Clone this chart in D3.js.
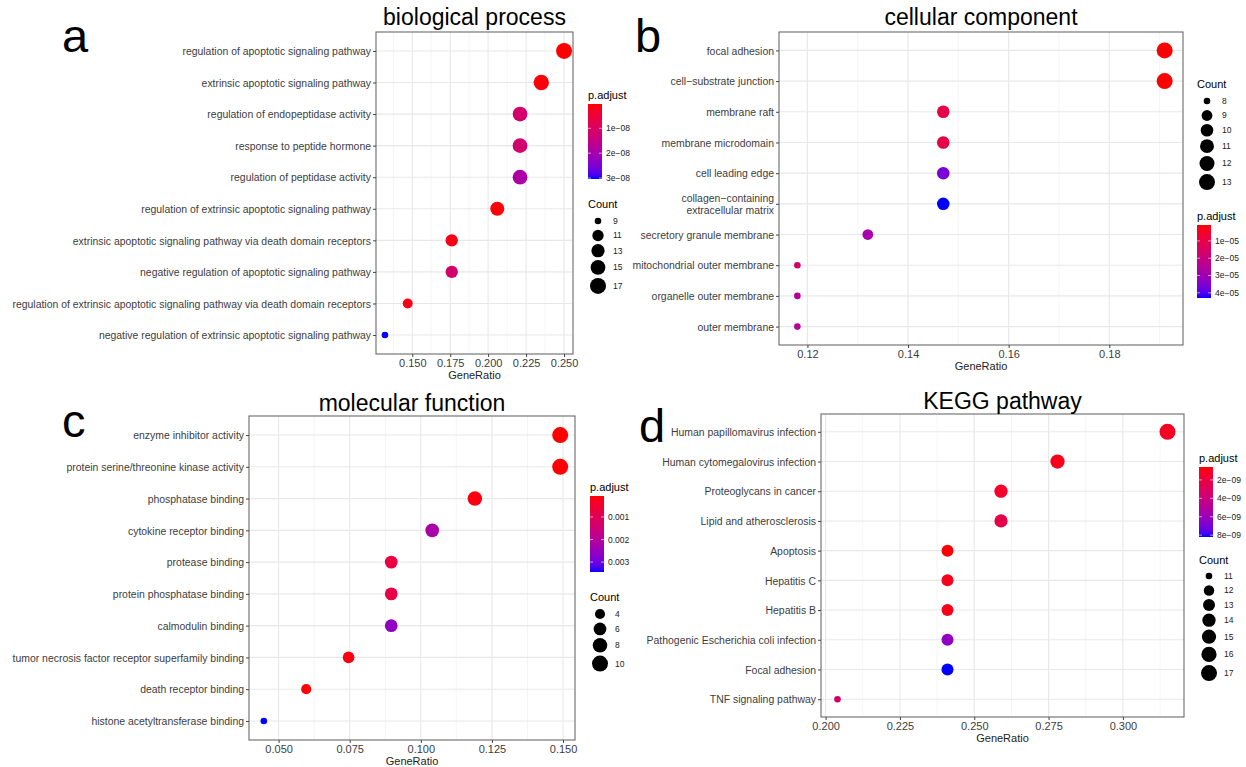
<!DOCTYPE html>
<html><head><meta charset="utf-8">
<script src="https://cdn.jsdelivr.net/npm/d3@7"></script>
<style>
body{margin:0;background:#fff}
svg text{font-family:"Liberation Sans",Arial,Helvetica,sans-serif}
</style>
</head><body>
<svg id="chart" width="1246" height="767"></svg>
<script>
// ---------------- DATA ----------------
const bpTerms = [
 "regulation of apoptotic signaling pathway",
 "extrinsic apoptotic signaling pathway",
 "regulation of endopeptidase activity",
 "response to peptide hormone",
 "regulation of peptidase activity",
 "regulation of extrinsic apoptotic signaling pathway",
 "extrinsic apoptotic signaling pathway via death domain receptors",
 "negative regulation of apoptotic signaling pathway",
 "regulation of extrinsic apoptotic signaling pathway via death domain receptors",
 "negative regulation of extrinsic apoptotic signaling pathway"];
const bpRatio = [0.250, 0.235, 0.221, 0.221, 0.221, 0.206, 0.176, 0.176, 0.147, 0.132];
const bpCount = [17, 16, 15, 15, 15, 14, 12, 12, 10, 9];
const bpPadj  = [2e-10, 8e-10, 1.15e-8, 1.2e-8, 1.9e-8, 6e-10, 1.5e-9, 1.15e-8, 1.5e-9, 3.04e-8];
const bpXTicks = [0.150, 0.175, 0.200, 0.225, 0.250];
const bpPTicks = [1e-8, 2e-8, 3e-8];
const bpPLabels = ["1e\u221208", "2e\u221208", "3e\u221208"];
const bpCountBreaks = [9, 11, 13, 15, 17];

const ccTerms = [
 "focal adhesion",
 "cell\u2212substrate junction",
 "membrane raft",
 "membrane microdomain",
 "cell leading edge",
 "collagen\u2212containing\nextracellular matrix",
 "secretory granule membrane",
 "mitochondrial outer membrane",
 "organelle outer membrane",
 "outer membrane"];
const ccRatio = [0.191, 0.191, 0.147, 0.147, 0.147, 0.147, 0.132, 0.118, 0.118, 0.118];
const ccCount = [13, 13, 10, 10, 10, 10, 9, 8, 8, 8];
const ccPadj  = [8e-7, 8e-7, 1.0e-5, 1.0e-5, 3.6e-5, 4.3e-5, 2.8e-5, 1.6e-5, 2.5e-5, 2.5e-5];
const ccXTicks = [0.12, 0.14, 0.16, 0.18];
const ccPTicks = [1e-5, 2e-5, 3e-5, 4e-5];
const ccPLabels = ["1e\u221205", "2e\u221205", "3e\u221205", "4e\u221205"];
const ccCountBreaks = [8, 9, 10, 11, 12, 13];

const mfTerms = [
 "enzyme inhibitor activity",
 "protein serine/threonine kinase activity",
 "phosphatase binding",
 "cytokine receptor binding",
 "protease binding",
 "protein phosphatase binding",
 "calmodulin binding",
 "tumor necrosis factor receptor superfamily binding",
 "death receptor binding",
 "histone acetyltransferase binding"];
const mfRatio = [0.149, 0.149, 0.119, 0.104, 0.0896, 0.0896, 0.0896, 0.0746, 0.0597, 0.0448];
const mfCount = [10, 10, 8, 7, 6, 6, 6, 5, 4, 3];
const mfPadj  = [7e-5, 1e-4, 1.5e-4, 2.2e-3, 7e-4, 8e-4, 2.6e-3, 1.5e-4, 1e-4, 3.44e-3];
const mfXTicks = [0.050, 0.075, 0.100, 0.125, 0.150];
const mfPTicks = [0.001, 0.002, 0.003];
const mfPLabels = ["0.001", "0.002", "0.003"];
const mfCountBreaks = [4, 6, 8, 10];

const keggTerms = [
 "Human papillomavirus infection",
 "Human cytomegalovirus infection",
 "Proteoglycans in cancer",
 "Lipid and atherosclerosis",
 "Apoptosis",
 "Hepatitis C",
 "Hepatitis B",
 "Pathogenic Escherichia coli infection",
 "Focal adhesion",
 "TNF signaling pathway"];
const keggRatio = [0.315, 0.278, 0.259, 0.259, 0.241, 0.241, 0.241, 0.241, 0.241, 0.204];
const keggCount = [17, 15, 14, 14, 13, 13, 13, 13, 13, 11];
const keggPadj  = [1.2e-9, 1.0e-9, 1.4e-9, 2.3e-9, 6e-10, 1.0e-9, 1.0e-9, 6.3e-9, 8.2e-9, 3.4e-9];
const keggXTicks = [0.200, 0.225, 0.250, 0.275, 0.300];
const keggPTicks = [2e-9, 4e-9, 6e-9, 8e-9];
const keggPLabels = ["2e\u221209", "4e\u221209", "6e\u221209", "8e\u221209"];
const keggCountBreaks = [11, 12, 13, 14, 15, 16, 17];

// ---------------- LAYOUT ----------------
const panels = [
 {letter:"a", title:"biological process", terms:bpTerms, ratio:bpRatio, count:bpCount, padj:bpPadj,
  xTicks:bpXTicks, xFmt:".3f", pTicks:bpPTicks, pLabels:bpPLabels, cBreaks:bpCountBreaks,
  box:[376,573,32,354], letterPos:[62,52], titleY:25,
  legend:{order:["p","c"], x:588, pTitleY:99, barY:104, barH:75, cTitleY:208, keyY0:221}},
 {letter:"b", title:"cellular component", terms:ccTerms, ratio:ccRatio, count:ccCount, padj:ccPadj,
  xTicks:ccXTicks, xFmt:".2f", pTicks:ccPTicks, pLabels:ccPLabels, cBreaks:ccCountBreaks,
  box:[779,1183,32,345], letterPos:[635,52], titleY:25,
  legend:{order:["c","p"], x:1197, pTitleY:220, barY:225, barH:73, cTitleY:88, keyY0:101}},
 {letter:"c", title:"molecular function", terms:mfTerms, ratio:mfRatio, count:mfCount, padj:mfPadj,
  xTicks:mfXTicks, xFmt:".3f", pTicks:mfPTicks, pLabels:mfPLabels, cBreaks:mfCountBreaks,
  box:[249,575,416,740], letterPos:[62,437], titleY:411,
  legend:{order:["p","c"], x:590, pTitleY:491, barY:496, barH:76, cTitleY:601, keyY0:614}},
 {letter:"d", title:"KEGG pathway", terms:keggTerms, ratio:keggRatio, count:keggCount, padj:keggPadj,
  xTicks:keggXTicks, xFmt:".3f", pTicks:keggPTicks, pLabels:keggPLabels, cBreaks:keggCountBreaks,
  box:[821,1184,414,717], letterPos:[639,442], titleY:409,
  legend:{order:["p","c"], x:1199, pTitleY:462, barY:467, barH:70, cTitleY:564, keyY0:576}}
];

const svg = d3.select("#chart");
const defs = svg.append("defs");
const colorInterp = d3.interpolateLab("#ff0000", "#0000ff");
const axisTextColor = "#3d3d3d";

panels.forEach((P, pi) => {
  const [x0, x1, y0, y1] = P.box;
  const g = svg.append("g");

  const ext = d3.extent(P.ratio);
  const pad = (ext[1] - ext[0]) * 0.05;
  const x = d3.scaleLinear().domain([ext[0] - pad, ext[1] + pad]).range([x0, x1]);
  const y = d3.scalePoint().domain(P.terms).range([y0, y1]).padding(0.6);
  const cExt = d3.extent(P.count);
  const tScale = d3.scaleLinear().domain(cExt).range([0, 1]);
  const rOf = c => 3.3 + 4.7 * Math.sqrt(tScale(c));
  const pExt = d3.extent(P.padj);
  const pScale = d3.scaleLinear().domain(pExt).range([0, 1]);
  const colOf = p => colorInterp(pScale(p));

  g.append("rect").attr("x", x0).attr("y", y0).attr("width", x1 - x0).attr("height", y1 - y0).attr("fill", "#fff");

  // minor vertical grid
  const step = P.xTicks[1] - P.xTicks[0];
  const dom = x.domain();
  const minors = [];
  for (let v = P.xTicks[0] - step / 2; v <= dom[1]; v += step) if (v >= dom[0]) minors.push(v);
  g.selectAll(".minor").data(minors).join("line")
    .attr("x1", d => x(d)).attr("x2", d => x(d)).attr("y1", y0).attr("y2", y1)
    .attr("stroke", "#f0f0f0").attr("stroke-width", 0.7);
  g.selectAll(".vmajor").data(P.xTicks).join("line")
    .attr("x1", d => x(d)).attr("x2", d => x(d)).attr("y1", y0).attr("y2", y1)
    .attr("stroke", "#e8e8e8").attr("stroke-width", 1.1);
  g.selectAll(".hmajor").data(P.terms).join("line")
    .attr("x1", x0).attr("x2", x1).attr("y1", d => y(d)).attr("y2", d => y(d))
    .attr("stroke", "#e8e8e8").attr("stroke-width", 1.1);

  // points
  const pts = P.terms.map((t, i) => ({t, r: P.ratio[i], c: P.count[i], p: P.padj[i]}));
  g.selectAll(".pt").data(pts).join("circle")
    .attr("cx", d => x(d.r)).attr("cy", d => y(d.t)).attr("r", d => rOf(d.c))
    .attr("fill", d => colOf(d.p));

  // border
  g.append("rect").attr("x", x0).attr("y", y0).attr("width", x1 - x0).attr("height", y1 - y0)
    .attr("fill", "none").attr("stroke", "#6a6a6a").attr("stroke-width", 1.1);

  // y axis
  const yAxis = d3.axisLeft(y).tickSize(3).tickPadding(2);
  const ya = g.append("g").attr("transform", `translate(${x0},0)`).call(yAxis);
  ya.select(".domain").remove();
  ya.selectAll(".tick line").attr("stroke", "#444");
  ya.selectAll(".tick text").each(function(d) {
    const t = d3.select(this);
    const lines = d.split("\n");
    t.text(null).attr("fill", axisTextColor).attr("font-size", 10.45)
      .attr("font-family", '"Liberation Sans",Arial,sans-serif').attr("dy", null);
    const lh = 11.5;
    lines.forEach((ln, k) => {
      t.append("tspan").attr("x", -5).attr("y", (k - (lines.length - 1) / 2) * lh).attr("dy", "0.35em").text(ln);
    });
  });

  // x axis
  const xAxis = d3.axisBottom(x).tickValues(P.xTicks).tickFormat(d3.format(P.xFmt)).tickSize(3).tickPadding(2);
  const xa = g.append("g").attr("transform", `translate(0,${y1})`).call(xAxis);
  xa.select(".domain").remove();
  xa.selectAll(".tick line").attr("stroke", "#444");
  xa.selectAll(".tick text").attr("fill", axisTextColor).attr("font-size", 11)
    .attr("font-family", '"Liberation Sans",Arial,sans-serif');

  g.append("text").attr("x", (x0 + x1) / 2).attr("y", y1 + 25).attr("text-anchor", "middle")
    .attr("font-size", 11).attr("fill", "#222").text("GeneRatio");

  // title
  g.append("text").attr("x", (x0 + x1) / 2).attr("y", P.titleY).attr("text-anchor", "middle")
    .attr("font-size", 23).attr("fill", "#000").text(P.title);
  // panel letter
  g.append("text").attr("x", P.letterPos[0]).attr("y", P.letterPos[1])
    .attr("font-size", 47).attr("fill", "#000").text(P.letter);

  // ---- legends ----
  const L = P.legend;
  const gid = "grad" + pi;
  const grad = defs.append("linearGradient").attr("id", gid).attr("x1", 0).attr("x2", 0).attr("y1", 0).attr("y2", 1);
  d3.range(0, 1.0001, 0.05).forEach(s => grad.append("stop").attr("offset", s).attr("stop-color", colorInterp(s)));
  const barW = 14;
  g.append("text").attr("x", L.x).attr("y", L.pTitleY).attr("font-size", 11).attr("fill", "#000").text("p.adjust");
  g.append("rect").attr("x", L.x).attr("y", L.barY).attr("width", barW).attr("height", L.barH).attr("fill", `url(#${gid})`);
  const barScale = d3.scaleLinear().domain(pExt).range([L.barY, L.barY + L.barH]);
  P.pTicks.forEach((v, k) => {
    const yy = barScale(v);
    g.append("line").attr("x1", L.x).attr("x2", L.x + 3).attr("y1", yy).attr("y2", yy).attr("stroke", "#fff").attr("stroke-opacity", 0.6);
    g.append("line").attr("x1", L.x + barW - 3).attr("x2", L.x + barW).attr("y1", yy).attr("y2", yy).attr("stroke", "#fff").attr("stroke-opacity", 0.6);
    g.append("text").attr("x", L.x + barW + 4).attr("y", yy).attr("dy", "0.35em")
      .attr("font-size", 8.5).attr("fill", "#222").text(P.pLabels[k]);
  });
  g.append("text").attr("x", L.x).attr("y", L.cTitleY).attr("font-size", 11).attr("fill", "#000").text("Count");
  let cy = L.keyY0;
  const keyH = c => Math.max(14.5, 2 * rOf(c) * 1.2);
  P.cBreaks.forEach((c, k) => {
    if (k > 0) cy += (keyH(P.cBreaks[k - 1]) + keyH(c)) / 2;
    g.append("circle").attr("cx", L.x + 10).attr("cy", cy).attr("r", rOf(c)).attr("fill", "#000");
    g.append("text").attr("x", L.x + 25).attr("y", cy).attr("dy", "0.35em")
      .attr("font-size", 8.5).attr("fill", "#222").text(c);
  });
});
</script>
</body></html>
